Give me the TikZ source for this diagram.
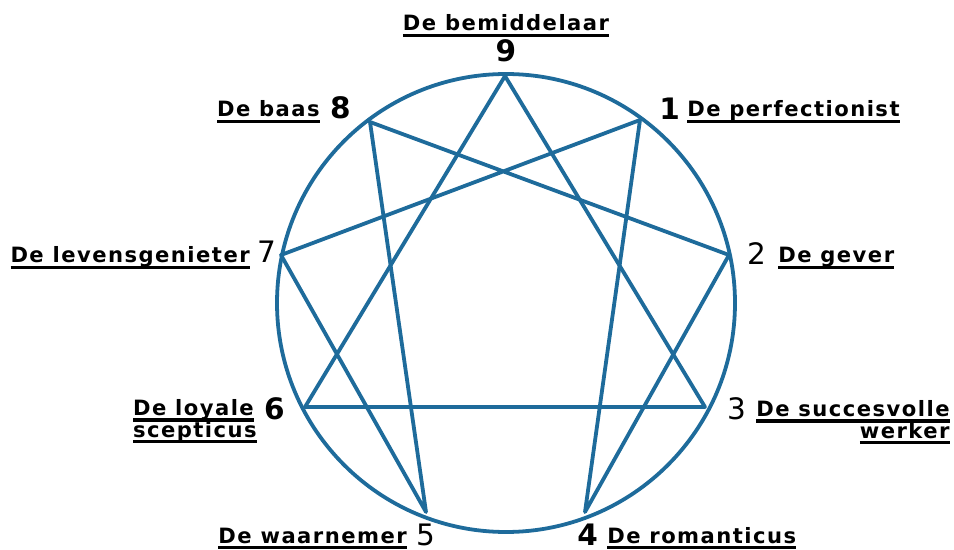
\documentclass[tikz,border=0pt]{standalone}
\usepackage{fontspec}
\setmainfont{DejaVu Sans}
\newfontfamily\lblfont[LetterSpace=7]{DejaVu Sans}
\usetikzlibrary{arrows.meta}
\definecolor{ennblue}{HTML}{1E6B9B}
\newcommand{\ulabel}[1]{\setbox0=\hbox{#1}\leavevmode\rlap{\smash{\rule[-4.6pt]{\wd0}{2.2pt}}}\box0}
\tikzset{
  every picture/.style={line join=round, line cap=round, >=Stealth},
  ennline/.style={draw=ennblue, line width=2.7pt},
  typename/.style={inner sep=0pt, font=\lblfont\bfseries\fontsize{15}{15.6}\selectfont},
  typenum/.style={inner sep=0pt, font=\fontsize{21}{24}\selectfont},
  typenumbf/.style={typenum, font=\bfseries\fontsize{21}{24}\selectfont},
}

\begin{document}
\begin{tikzpicture}[x=0.025cm,y=-0.025cm]
\useasboundingbox (0,0) rectangle (954,550);
% points of the figure
\coordinate (p9) at (505,76);
\coordinate (p1) at (640,120);
\coordinate (p2) at (729,255);
\coordinate (p3) at (705,407);
\coordinate (p4) at (585,512);
\coordinate (p5) at (426,512);
\coordinate (p6) at (305,407);
\coordinate (p7) at (281,255);
\coordinate (p8) at (370,122);
\draw[ennline] (506,303) circle (229);
\draw[ennline] (p9) -- (p3) -- (p6) -- cycle;
\draw[ennline] (p1) -- (p4) -- (p2) -- (p8) -- (p5) -- (p7) -- cycle;
% numbers
\node[typenumbf,anchor=base] (n9) at (506,62) {9};
\node[typenumbf,anchor=base west] (n1) at (659,120) {1};
\node[typenum,anchor=base west] (n2) at (747,265) {2};
\node[typenum,anchor=base west] (n3) at (727,419) {3};
\node[typenumbf,anchor=base west] (n4) at (577,545) {4};
\node[typenum,anchor=base east] (n5) at (436,545) {5};
\node[typenumbf,anchor=base east] (n6) at (285,419) {6};
\node[typenum,anchor=base east] (n7) at (277,263) {7};
\node[typenumbf,anchor=base east] (n8) at (351,119) {8};
% names
\node[typename,anchor=base] (t9) at (506,31) {\ulabel{De bemiddelaar}};
\node[typename,anchor=base west] (t1) at (687,117) {\ulabel{De perfectionist}};
\node[typename,anchor=base west] (t2) at (778,263) {\ulabel{De gever}};
\node[typename,anchor=base west,align=right] (t3) at (756,438) {\ulabel{De succesvolle}\\\ulabel{werker}};
\node[typename,anchor=base west] (t4) at (607,543) {\ulabel{De romanticus}};
\node[typename,anchor=base east] (t5) at (407,543) {\ulabel{De waarnemer}};
\node[typename,anchor=base east,align=left] (t6) at (257,437) {\ulabel{De loyale}\\\ulabel{scepticus}};
\node[typename,anchor=base east] (t7) at (250,263) {\ulabel{De levensgenieter}};
\node[typename,anchor=base east] (t8) at (320,117) {\ulabel{De baas}};
\end{tikzpicture}
\end{document}
